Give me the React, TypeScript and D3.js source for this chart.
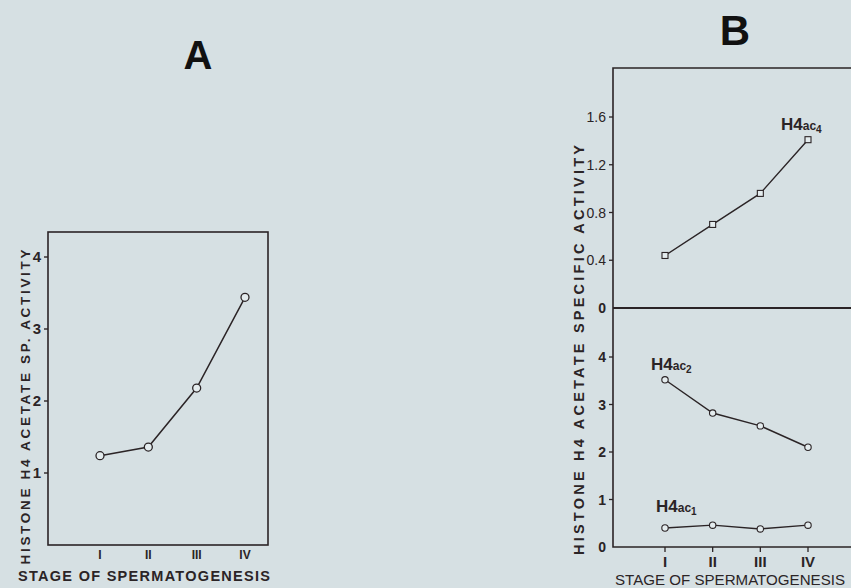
import React, { useEffect, useRef } from "react";
import * as d3 from "d3";

// stages of spermatogenesis (x categories)
const stages = ["I", "II", "III", "IV"];

// Panel A: total histone H4 acetate specific activity
const totalActivity = [1.24, 1.36, 2.18, 3.44];
const ticksA = [1, 2, 3, 4];

// Panel B: separate acetylated forms
const h4ac4 = [0.44, 0.7, 0.96, 1.41];
const h4ac2 = [3.52, 2.82, 2.55, 2.1];
const h4ac1 = [0.4, 0.46, 0.38, 0.46];
const ticksBTop = [0, 0.4, 0.8, 1.2, 1.6];
const ticksBBottom = [0, 1, 2, 3, 4];

const ink = "#2b2426";
const font = "'Liberation Sans', Arial, sans-serif";

const App = () => {
  const svgRef = useRef<SVGSVGElement>(null);

  useEffect(() => {
    const width = 851;
    const height = 588;
    const svg = d3.select(svgRef.current);
    svg.selectAll("*").remove();
    svg.attr("width", width).attr("height", height);

    svg.append("rect").attr("width", width).attr("height", height).attr("fill", "#d6e0e3");

    const line = (x: any, y: any) =>
      d3
        .line<number>()
        .x((_, i) => x(stages[i]))
        .y((d) => y(d));

    const label = (g: any, x: number, y: number, sub: string) => {
      const t = g
        .append("text")
        .attr("x", x)
        .attr("y", y)
        .attr("fill", ink)
        .style("font-family", font)
        .style("font-weight", "bold");
      t.append("tspan").style("font-size", "17px").text("H4");
      t.append("tspan").style("font-size", "12px").text("ac");
      t.append("tspan").style("font-size", "10px").attr("dy", 3).text(sub);
    };

    // ---------- Panel A ----------
    const xA = d3.scalePoint<string>().domain(stages).range([100, 245]);
    const yA = d3.scaleLinear().domain([0, 4]).range([545, 257]);

    svg
      .append("rect")
      .attr("x", 48)
      .attr("y", 232)
      .attr("width", 220)
      .attr("height", 313)
      .attr("fill", "none")
      .attr("stroke", ink)
      .attr("stroke-width", 1.6);

    const gA = svg.append("g");
    ticksA.forEach((t) => {
      gA.append("line").attr("x1", 44).attr("x2", 48).attr("y1", yA(t)).attr("y2", yA(t)).attr("stroke", ink).attr("stroke-width", 1.4);
      gA.append("text")
        .attr("x", 41)
        .attr("y", yA(t) + 5)
        .attr("text-anchor", "end")
        .attr("fill", ink)
        .style("font-family", font)
        .style("font-weight", "bold")
        .style("font-size", "15px")
        .text(t);
    });
    stages.forEach((s) => {
      gA.append("text")
        .attr("x", xA(s)!)
        .attr("y", 559)
        .attr("text-anchor", "middle")
        .attr("fill", ink)
        .style("font-family", font)
        .style("font-weight", "bold")
        .style("font-size", "12px")
        .text(s);
    });

    gA.append("path")
      .datum(totalActivity)
      .attr("d", line(xA, yA))
      .attr("fill", "none")
      .attr("stroke", ink)
      .attr("stroke-width", 1.5);
    gA.selectAll("circle")
      .data(totalActivity)
      .enter()
      .append("circle")
      .attr("cx", (_, i) => xA(stages[i])!)
      .attr("cy", (d) => yA(d))
      .attr("r", 4)
      .attr("fill", "#e4ecee")
      .attr("stroke", ink)
      .attr("stroke-width", 1.3);

    gA.append("text")
      .attr("transform", "translate(30,407) rotate(-90)")
      .attr("text-anchor", "middle")
      .attr("textLength", 315)
      .attr("lengthAdjust", "spacing")
      .attr("fill", ink)
      .style("font-family", font)
      .style("font-weight", "bold")
      .style("font-size", "13.5px")
      .text("HISTONE H4 ACETATE SP. ACTIVITY");

    gA.append("text")
      .attr("x", 144)
      .attr("y", 581)
      .attr("text-anchor", "middle")
      .attr("textLength", 252)
      .attr("lengthAdjust", "spacing")
      .attr("fill", ink)
      .style("font-family", font)
      .style("font-weight", "bold")
      .style("font-size", "14.5px")
      .text("STAGE OF SPERMATOGENESIS");

    svg.append("text")
      .attr("x", 198)
      .attr("y", 69)
      .attr("text-anchor", "middle")
      .attr("fill", "#111")
      .style("font-family", font)
      .style("font-weight", "bold")
      .style("font-size", "40px")
      .text("A");

    // ---------- Panel B ----------
    const xB = d3.scalePoint<string>().domain(stages).range([665, 808]);
    const yBt = d3.scaleLinear().domain([0, 1.6]).range([308, 117]);
    const yBb = d3.scaleLinear().domain([0, 4]).range([547, 357]);

    const gB = svg.append("g");
    gB.append("path")
      .attr("d", "M870,68H613V547H870")
      .attr("fill", "none")
      .attr("stroke", ink)
      .attr("stroke-width", 1.6);
    gB.append("line").attr("x1", 613).attr("x2", 870).attr("y1", 308).attr("y2", 308).attr("stroke", ink).attr("stroke-width", 1.8);

    const yTicks = (ticks: number[], y: any, fmt: (d: number) => string, bold: boolean) => {
      ticks.forEach((t) => {
        if (t > 0)
          gB.append("line").attr("x1", 609).attr("x2", 613).attr("y1", y(t)).attr("y2", y(t)).attr("stroke", ink).attr("stroke-width", 1.3);
        gB.append("text")
          .attr("x", 606)
          .attr("y", y(t) + 5)
          .attr("text-anchor", "end")
          .attr("fill", ink)
          .style("font-family", font)
          .style("font-size", "14px")
          .style("font-weight", bold || t === 0 ? "bold" : "normal")
          .text(fmt(t));
      });
    };
    yTicks(ticksBTop, yBt, (d) => (d === 0 ? "0" : d3.format(".1f")(d)), false);
    yTicks(ticksBBottom, yBb, (d) => String(d), true);

    stages.forEach((s) => {
      gB.append("line").attr("x1", xB(s)!).attr("x2", xB(s)!).attr("y1", 547).attr("y2", 552).attr("stroke", ink).attr("stroke-width", 1.3);
      gB.append("text")
        .attr("x", xB(s)!)
        .attr("y", 567)
        .attr("text-anchor", "middle")
        .attr("fill", ink)
        .style("font-family", font)
        .style("font-weight", "bold")
        .style("font-size", "15px")
        .text(s);
    });

    const drawSeries = (data: number[], y: any, square: boolean) => {
      gB.append("path")
        .datum(data)
        .attr("d", line(xB, y))
        .attr("fill", "none")
        .attr("stroke", ink)
        .attr("stroke-width", 1.4);
      const pts = gB.append("g").selectAll("g").data(data).enter();
      if (square) {
        pts.append("rect")
          .attr("x", (_, i) => xB(stages[i])! - 3)
          .attr("y", (d) => y(d) - 3)
          .attr("width", 6)
          .attr("height", 6)
          .attr("fill", "#e4ecee")
          .attr("stroke", ink)
          .attr("stroke-width", 1.1);
      } else {
        pts.append("circle")
          .attr("cx", (_, i) => xB(stages[i])!)
          .attr("cy", (d) => y(d))
          .attr("r", 3.2)
          .attr("fill", "#e4ecee")
          .attr("stroke", ink)
          .attr("stroke-width", 1.1);
      }
    };
    drawSeries(h4ac4, yBt, true);
    drawSeries(h4ac2, yBb, false);
    drawSeries(h4ac1, yBb, false);

    label(gB, 781, 130, "4");
    label(gB, 651, 370, "2");
    label(gB, 656, 512, "1");

    gB.append("text")
      .attr("transform", "translate(584,350) rotate(-90)")
      .attr("text-anchor", "middle")
      .attr("textLength", 410)
      .attr("lengthAdjust", "spacing")
      .attr("fill", ink)
      .style("font-family", font)
      .style("font-weight", "bold")
      .style("font-size", "14.5px")
      .text("HISTONE H4 ACETATE SPECIFIC ACTIVITY");

    gB.append("text")
      .attr("x", 730)
      .attr("y", 585)
      .attr("text-anchor", "middle")
      .attr("textLength", 230)
      .attr("lengthAdjust", "spacingAndGlyphs")
      .attr("fill", ink)
      .style("font-family", font)
      .style("font-size", "15px")
      .text("STAGE OF SPERMATOGENESIS");

    svg.append("text")
      .attr("x", 735)
      .attr("y", 45)
      .attr("text-anchor", "middle")
      .attr("fill", "#111")
      .style("font-family", font)
      .style("font-weight", "bold")
      .style("font-size", "42px")
      .text("B");
  }, []);

  return <svg ref={svgRef} style={{ position: "absolute", left: 0, top: 0, display: "block" }}></svg>;
};

export default App;
